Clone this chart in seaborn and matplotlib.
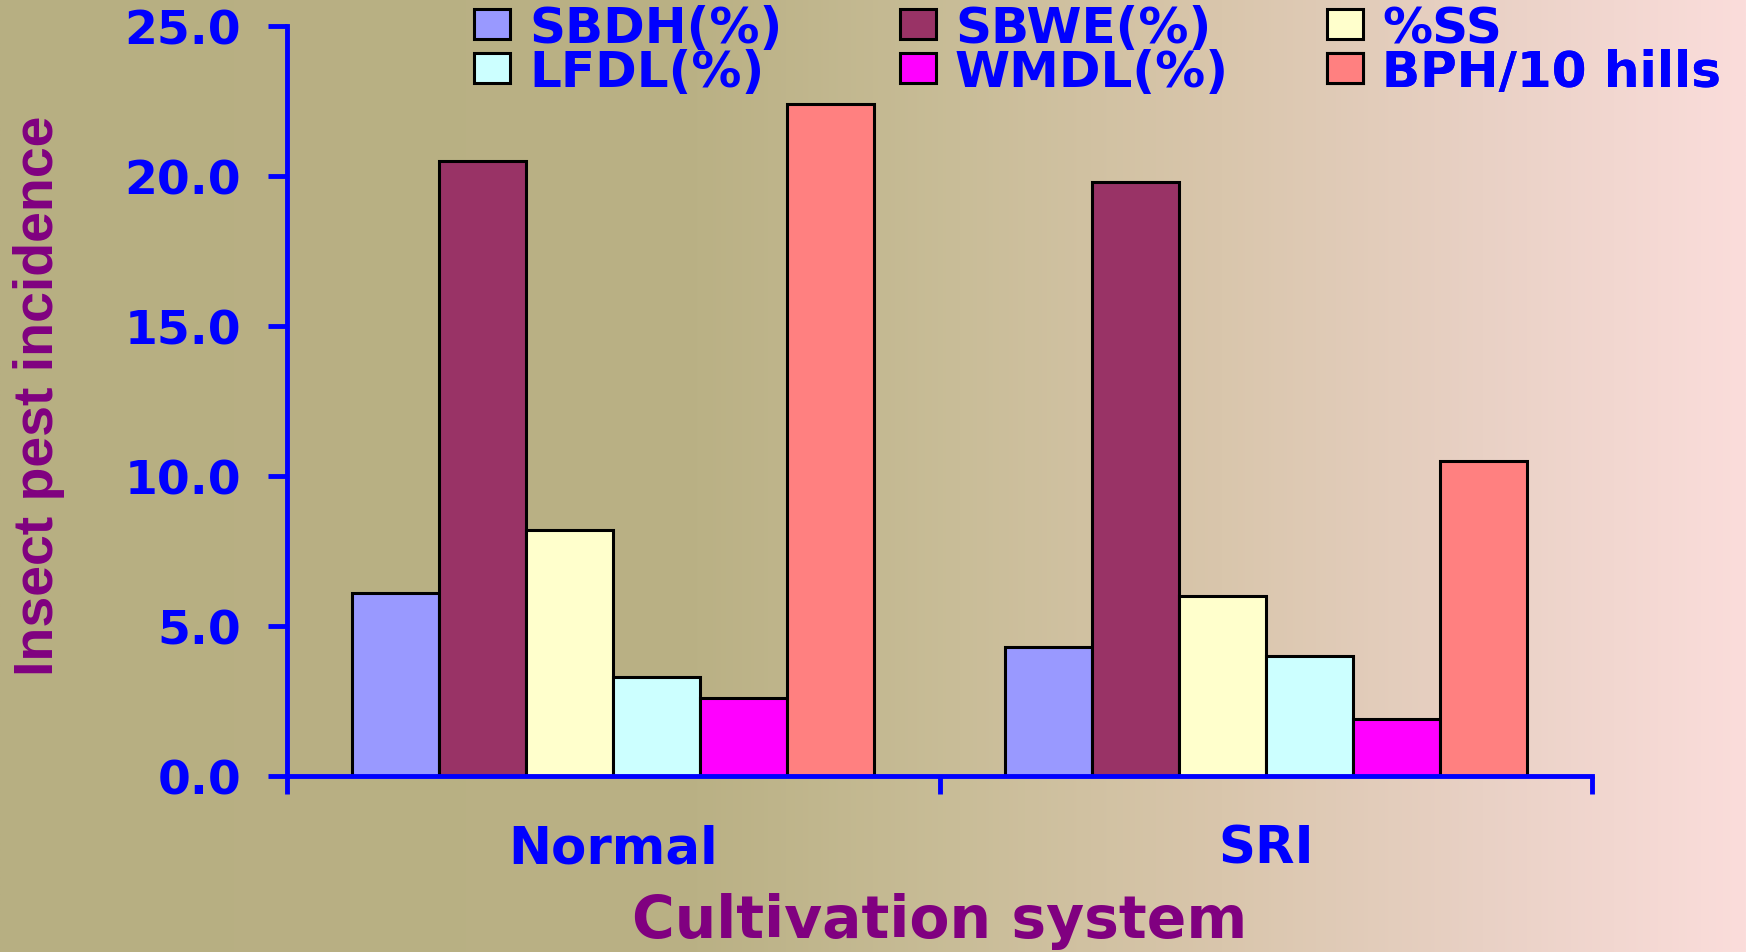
import numpy as np
import pandas as pd
import matplotlib
matplotlib.use("Agg")
import matplotlib.pyplot as plt
import seaborn as sns
from matplotlib.ticker import FormatStrFormatter

# ---- data -------------------------------------------------------------
systems = ["Normal", "SRI"]
pests = ["SBDH(%)", "SBWE(%)", "%SS", "LFDL(%)", "WMDL(%)", "BPH/10 hills"]
normal_vals = [6.1, 20.5, 8.2, 3.3, 2.6, 22.4]
sri_vals = [4.3, 19.8, 6.0, 4.0, 1.9, 10.5]
bar_colors = ["#9999FF", "#993366", "#FFFFCC", "#CCFFFF", "#FF00FF", "#FF8080"]
y_ticks = [0, 5, 10, 15, 20, 25]

df = pd.DataFrame({
    "system": np.repeat(systems, len(pests)),
    "pest": pests * len(systems),
    "value": normal_vals + sri_vals,
})

plt.rcParams["font.family"] = ["DejaVu Sans"]
plt.rcParams["font.weight"] = "bold"

BLUE = "#0000FF"
PURPLE = "#800080"

fig = plt.figure(figsize=(17.46, 9.53), dpi=100)

# soft olive-to-pink backdrop
stops = np.array([0.0, 0.40, 0.55, 0.70, 0.85, 1.0])
stop_cols = np.array([
    [183, 175, 130],
    [186, 177, 133],
    [201, 189, 152],
    [217, 198, 172],
    [233, 209, 197],
    [251, 221, 219],
]) / 255.0
xs = np.linspace(0, 1, 600)
row = np.stack([np.interp(xs, stops, stop_cols[:, c]) for c in range(3)], axis=-1)
grad = np.repeat(row[None, :, :], 4, axis=0)
bg = fig.add_axes([0, 0, 1, 1], zorder=-1)
bg.imshow(grad, aspect="auto", extent=[0, 1, 0, 1])
bg.axis("off")

ax = fig.add_axes([0.1644, 0.1847, 0.7474, 0.787])
ax.patch.set_alpha(0)

sns.barplot(
    data=df, x="system", y="value", hue="pest",
    order=systems, hue_order=pests,
    palette=dict(zip(pests, bar_colors)), saturation=1,
    width=0.8, edgecolor="black", linewidth=2.2,
    legend=False, ax=ax,
)

ax.set_xlim(-0.5, 1.5)
ax.set_ylim(0, 25)

# y axis
ax.set_yticks(y_ticks)
ax.yaxis.set_major_formatter(FormatStrFormatter("%.1f"))
ax.tick_params(axis="y", direction="out", length=14, width=3.5, color=BLUE,
               pad=19, labelsize=34, labelcolor=BLUE)

# x axis: boundary ticks, category labels centred between them
ax.set_xticks([-0.5, 0.5, 1.5])
ax.set_xticklabels([])
ax.set_xticks([0, 1], minor=True)
ax.set_xticklabels(systems, minor=True)
ax.tick_params(axis="x", which="major", direction="out", length=13, width=3.5, color=BLUE)
ax.tick_params(axis="x", which="minor", length=0, pad=34, labelsize=37, labelcolor=BLUE)

for side in ["top", "right"]:
    ax.spines[side].set_visible(False)
for side in ["left", "bottom"]:
    ax.spines[side].set_color(BLUE)
    ax.spines[side].set_linewidth(3.5)

ax.set_xlabel("Cultivation system", fontsize=42, color=PURPLE, fontweight="bold")
ax.xaxis.label.set_va("baseline")
ax.xaxis.set_label_coords(0.5, -0.2147)

ax.set_ylabel("Insect pest incidence", fontsize=40, color=PURPLE, fontweight="bold",
              family=["Liberation Sans", "DejaVu Sans"])
ax.yaxis.label.set(ha="center", va="center", rotation_mode="default")
ax.yaxis.set_label_coords(-0.19, 0.508)

# legend: three columns of two entries, filled row by row
W, H = 1746.0, 953.0
col_x = [474, 900, 1327]
row_y = [29, 73]
for i, (name, cont) in enumerate(zip(pests, ax.containers)):
    r, c = i // 3, i % 3
    leg = ax.legend(
        [cont], [name], loc="center left",
        bbox_to_anchor=(col_x[c] / W, 1 - row_y[r] / H),
        bbox_transform=fig.transFigure,
        frameon=False, borderpad=0, borderaxespad=0,
        handlelength=0.72, handleheight=0.55, handletextpad=0.38,
        prop={"size": 36, "weight": "bold"}, labelcolor=BLUE,
    )
    ax.add_artist(leg)

fig.savefig("out.png", dpi=100)
